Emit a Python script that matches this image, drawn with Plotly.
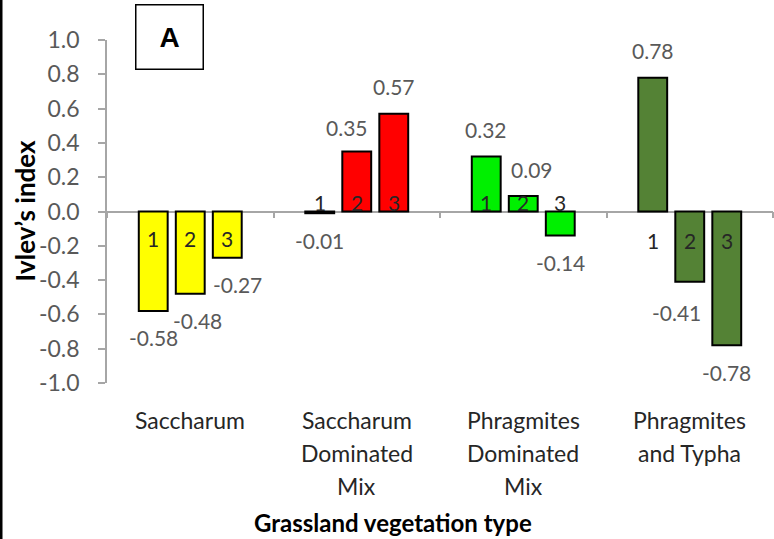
import plotly.graph_objects as go

# ---- data -------------------------------------------------------------
categories = [
    "Saccharum",
    "Saccharum Dominated Mix",
    "Phragmites Dominated Mix",
    "Phragmites and Typha",
]
category_lines = [
    ["Saccharum"],
    ["Saccharum", "Dominated", "Mix"],
    ["Phragmites", "Dominated", "Mix"],
    ["Phragmites", "and Typha"],
]
series_names = ["1", "2", "3"]
values_1 = [-0.58, -0.01, 0.32, 0.78]
values_2 = [-0.48, 0.35, 0.09, -0.41]
values_3 = [-0.27, 0.57, -0.14, -0.78]
series_values = [values_1, values_2, values_3]

y_tickvals = [1.0, 0.8, 0.6, 0.4, 0.2, 0.0, -0.2, -0.4, -0.6, -0.8, -1.0]
y_ticktext = ["1.0", "0.8", "0.6", "0.4", "0.2", "0.0",
              "-0.2", "-0.4", "-0.6", "-0.8", "-1.0"]

# ---- styling ----------------------------------------------------------
category_colors = ["#FFFF00", "#FF0000", "#00F000", "#548235"]
FONT = "Lato, 'Open Sans', sans-serif"
GRAY_TEXT = "#595959"
AXIS_GRAY = "#A6A6A6"
BARGAP = 0.333
SLOT = (1 - BARGAP) / 3          # width of one bar slot in category units

# vertical pixel offset of the "1 2 3" series tags, per category
tag_shift = [-27, 9, 9, -29]
# small hand nudges (px) for value labels that would otherwise crowd
value_nudge = {(0, 1): (7, 0), (0, 2): (10, 0), (1, 1): (-10, -3),
               (2, 1): (9, 0), (3, 1): (-13, -4)}

fig = go.Figure()
for j, (name, vals) in enumerate(zip(series_names, series_values)):
    fig.add_trace(go.Bar(
        name=name,
        x=categories,
        y=vals,
        marker=dict(color=category_colors,
                    line=dict(color="#000000", width=2)),
        showlegend=False,
        hoverinfo="x+y",
    ))

annotations = []
for j, vals in enumerate(series_values):
    offset = (j - 1) * SLOT
    for i, v in enumerate(vals):
        dx, dy = value_nudge.get((i, j), (0, 0))
        ys = 27 if v > 0 else -27
        annotations.append(dict(
            x=i + offset, y=v, xref="x", yref="y",
            text=f"{v:.2f}", showarrow=False,
            xanchor="center", yanchor="middle",
            xshift=dx, yshift=ys + dy,
            font=dict(family=FONT, size=21, color=GRAY_TEXT),
        ))
        annotations.append(dict(
            x=i + offset, y=0, xref="x", yref="y",
            text=series_names[j], showarrow=False,
            xanchor="center", yanchor="middle",
            yshift=tag_shift[i],
            font=dict(family=FONT, size=21, color="#262626"),
        ))

# category names, one line per annotation, below the plot area
for i, lines in enumerate(category_lines):
    for k, line in enumerate(lines):
        annotations.append(dict(
            x=i, y=0, xref="x", yref="paper",
            text=line, showarrow=False,
            xanchor="center", yanchor="middle",
            yshift=-37 - 33 * k,
            font=dict(family=FONT, size=23, color="#262626"),
        ))

# axis titles
annotations.append(dict(
    x=0.43, y=0, xref="paper", yref="paper", yshift=-139,
    text="<b>Grassland vegetation type</b>", showarrow=False,
    xanchor="center", yanchor="middle",
    font=dict(family=FONT, size=24, color="#000000"),
))
annotations.append(dict(
    x=0, y=0.5, xref="paper", yref="paper", xshift=-83,
    text="<b>Ivlev’s index</b>", showarrow=False, textangle=-90,
    xanchor="center", yanchor="middle",
    font=dict(family=FONT, size=26, color="#000000"),
))
# panel letter
annotations.append(dict(
    x=0.0931, y=1.0073, xref="paper", yref="paper",
    text="<b>A</b>", showarrow=False,
    xanchor="center", yanchor="middle",
    width=66, height=63, borderpad=0,
    bordercolor="#000000", borderwidth=1.5, bgcolor="#FFFFFF",
    font=dict(family="Liberation Sans, Arial, sans-serif", size=28, color="#000000"),
))

fig.update_layout(
    width=774, height=539,
    margin=dict(l=107, r=1, t=40, b=156),
    paper_bgcolor="#FFFFFF", plot_bgcolor="#FFFFFF",
    barmode="group", bargap=BARGAP, bargroupgap=0.22,
    annotations=annotations,
    shapes=[dict(type="rect", xref="paper", yref="paper",
                 x0=-0.17, x1=(2.5 - 107) / 666, y0=-0.5, y1=1.2,
                 fillcolor="#000000", line=dict(width=0), layer="above")],
    xaxis=dict(
        type="category", range=[-0.5, 3.5],
        anchor="free", position=0.5, layer="below traces",
        showline=True, linecolor=AXIS_GRAY, linewidth=1.5,
        ticks="outside", tickson="boundaries", ticklen=6,
        tickcolor=AXIS_GRAY, tickwidth=1.5,
        showticklabels=False, showgrid=False, zeroline=False,
    ),
    yaxis=dict(
        range=[-1.0, 1.0],
        tickvals=y_tickvals, ticktext=y_ticktext,
        showline=True, linecolor=AXIS_GRAY, linewidth=1.5,
        ticks="outside", ticklen=7, tickcolor=AXIS_GRAY, tickwidth=1.5,
        ticklabelstandoff=14,
        tickfont=dict(family=FONT, size=23, color=GRAY_TEXT),
        showgrid=False, zeroline=False,
    ),
)

fig.write_html("out.html")
